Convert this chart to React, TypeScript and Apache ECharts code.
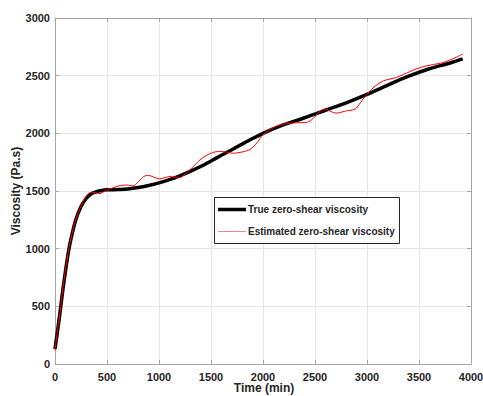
import React, { useEffect, useRef } from "react";
import * as echarts from "echarts";

const trueName = "True zero-shear viscosity";
const estName = "Estimated zero-shear viscosity";
const xTitle = "Time (min)";
const yTitle = "Viscosity (Pa.s)";

const trueTimes = [0, 25, 50, 75, 100, 125, 150, 200, 250, 300, 350, 400, 450, 500, 600, 700, 800, 900, 1000, 1100, 1200, 1300, 1400, 1500, 1600, 1700, 1800, 1900, 2000, 2200, 2400, 2600, 2800, 3000, 3200, 3400, 3600, 3800, 3920];
const trueValues = [130, 290, 460, 640, 800, 950, 1070, 1250, 1365, 1435, 1475, 1495, 1505, 1510, 1513, 1518, 1530, 1548, 1570, 1598, 1632, 1670, 1712, 1760, 1810, 1858, 1907, 1955, 2000, 2075, 2135, 2200, 2265, 2338, 2418, 2495, 2560, 2610, 2645];

const estTimes = [0, 25, 50, 75, 100, 125, 150, 200, 250, 288, 320, 353, 400, 433, 470, 497, 550, 593, 640, 689, 720, 753, 790, 817, 850, 881, 915, 945, 980, 1010, 1060, 1106, 1150, 1202, 1250, 1298, 1350, 1394, 1450, 1522, 1570, 1619, 1670, 1715, 1779, 1830, 1875, 1939, 2003, 2080, 2163, 2240, 2324, 2420, 2484, 2540, 2596, 2650, 2708, 2760, 2804, 2885, 2940, 3006, 3080, 3157, 3220, 3285, 3350, 3413, 3480, 3541, 3610, 3670, 3740, 3798, 3860, 3920];
const estValues = [120, 300, 455, 650, 810, 955, 1075, 1255, 1370, 1440, 1478, 1490, 1482, 1478, 1495, 1510, 1525, 1540, 1548, 1552, 1548, 1545, 1570, 1595, 1622, 1635, 1632, 1622, 1610, 1605, 1618, 1625, 1620, 1618, 1645, 1685, 1730, 1770, 1805, 1835, 1842, 1842, 1833, 1827, 1835, 1845, 1860, 1915, 1990, 2040, 2072, 2085, 2092, 2095, 2130, 2185, 2210, 2190, 2175, 2185, 2195, 2210, 2270, 2347, 2410, 2455, 2470, 2485, 2510, 2535, 2560, 2578, 2592, 2602, 2615, 2636, 2660, 2688];

const xTicks = { min: 0, max: 4000, interval: 500 };
const yTicks = { min: 0, max: 3000, interval: 500 };

const FONT = "'Liberation Sans', Arial, sans-serif";
const AXIS_COLOR = "#a6a6a6";
const TEXT_COLOR = "#262626";
const GRID_COLOR = "#e6e6e6";

export default function App() {
  const ref = useRef<HTMLDivElement>(null);
  useEffect(() => {
    if (!ref.current) return;
    const chart = echarts.init(ref.current, undefined, { renderer: "svg" });
    const trueData = trueTimes.map((t, i) => [t, trueValues[i]]);
    const estData = estTimes.map((t, i) => [t, estValues[i]]);
    const tickCommon = { show: true, inside: true, length: 4, lineStyle: { color: AXIS_COLOR } };
    const lineCommon = { show: true, onZero: false, lineStyle: { color: AXIS_COLOR, width: 1 } };
    const labelCommon = { color: TEXT_COLOR, fontFamily: FONT, fontWeight: "bold" as const, fontSize: 11 };
    const fmt = (v: number) => String(v);
    const legendText = { fill: TEXT_COLOR, fontFamily: FONT, fontWeight: "bold", fontSize: 10, verticalAlign: "middle", align: "left" };
    const titleText = { fill: TEXT_COLOR, fontFamily: FONT, fontWeight: "bold", fontSize: 12, verticalAlign: "middle", align: "center" };
    chart.setOption({
      animation: false,
      backgroundColor: "#ffffff",
      grid: { left: 55, right: 12, top: 18, bottom: 32, containLabel: false, outerBoundsMode: "none" },
      xAxis: [
        {
          type: "value",
          position: "bottom",
          ...xTicks,
          axisLine: lineCommon,
          axisTick: tickCommon,
          splitLine: { show: true, lineStyle: { color: GRID_COLOR, width: 1 } },
          axisLabel: { ...labelCommon, margin: 7, formatter: fmt },
        },
        {
          type: "value",
          position: "top",
          ...xTicks,
          axisLine: lineCommon,
          axisTick: tickCommon,
          splitLine: { show: false },
          axisLabel: { show: false },
        },
      ],
      yAxis: [
        {
          type: "value",
          position: "left",
          ...yTicks,
          axisLine: lineCommon,
          axisTick: tickCommon,
          splitLine: { show: true, lineStyle: { color: GRID_COLOR, width: 1 } },
          axisLabel: { ...labelCommon, margin: 5, formatter: fmt },
        },
        {
          type: "value",
          position: "right",
          ...yTicks,
          axisLine: lineCommon,
          axisTick: tickCommon,
          splitLine: { show: false },
          axisLabel: { show: false },
        },
      ],
      series: [
        {
          name: trueName,
          type: "line",
          data: trueData,
          smooth: 0.3,
          showSymbol: false,
          symbol: "none",
          lineStyle: { color: "#000000", width: 3.5 },
          z: 2,
        },
        {
          name: estName,
          type: "line",
          data: estData,
          smooth: 0.3,
          showSymbol: false,
          symbol: "none",
          lineStyle: { color: "#ff0000", width: 1 },
          z: 3,
        },
      ],
      graphic: [
        { type: "text", z: 101, x: 264, y: 388, style: { text: xTitle, ...titleText } },
        { type: "text", z: 101, x: 16, y: 191, rotation: Math.PI / 2, style: { text: yTitle, ...titleText } },
        { type: "rect", z: 100, shape: { x: 214.5, y: 197.5, width: 185, height: 46 }, style: { fill: "#ffffff", stroke: "#262626", lineWidth: 1 } },
        { type: "line", z: 101, shape: { x1: 218, y1: 209.5, x2: 246, y2: 209.5 }, style: { stroke: "#000000", lineWidth: 3.5 } },
        { type: "text", z: 101, x: 248, y: 209.5, style: { text: trueName, ...legendText } },
        { type: "line", z: 101, shape: { x1: 218, y1: 231.5, x2: 246, y2: 231.5 }, style: { stroke: "#ff8080", lineWidth: 1 } },
        { type: "text", z: 101, x: 248, y: 231, style: { text: estName, ...legendText } },
      ],
    });
    return () => chart.dispose();
  }, []);
  return <div ref={ref} style={{ position: "absolute", left: 0, top: 0, width: 483, height: 396 }} />;
}
